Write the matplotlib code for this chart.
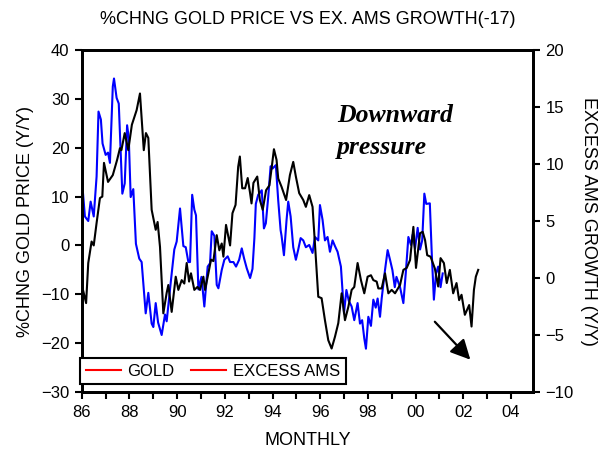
import numpy as np
from matplotlib import pyplot as plt
from matplotlib import rcParams
from matplotlib.ticker import MultipleLocator, FuncFormatter
rcParams['font.family'] = 'sans-serif'
rcParams['font.sans-serif'] = ['Liberation Sans', 'DejaVu Sans']
rcParams['font.size'] = 12

# gold: % change y/y (left axis)
gold_t = [1986.00, 1986.06, 1986.18, 1986.27, 1986.41, 1986.50, 1986.62, 1986.76, 1986.86, 1986.93,
          1987.10, 1987.30, 1987.48, 1987.60, 1987.66, 1987.80, 1987.95, 1988.10, 1988.30, 1988.44,
          1988.60, 1988.69, 1988.79, 1988.93, 1989.10, 1989.18, 1989.28, 1989.42, 1989.56, 1989.63,
          1989.77, 1989.94, 1990.05, 1990.19, 1990.30, 1990.40, 1990.50, 1990.58, 1990.72, 1990.85,
          1990.96, 1991.10, 1991.17, 1991.31, 1991.42, 1991.52, 1991.66, 1991.77, 1991.87, 1991.94,
          1992.05, 1992.22, 1992.32, 1992.45, 1992.56, 1992.63, 1992.73, 1992.85, 1992.96, 1993.06,
          1993.12, 1993.20, 1993.36, 1993.47, 1993.59, 1993.73, 1993.87, 1993.97, 1994.06, 1994.17,
          1994.24, 1994.38, 1994.57, 1994.73, 1994.87, 1994.98, 1995.12, 1995.29, 1995.40, 1995.54,
          1995.68, 1995.78, 1995.92, 1996.06, 1996.20, 1996.34, 1996.48, 1996.62, 1996.76, 1996.90,
          1997.04, 1997.18, 1997.32, 1997.43, 1997.57, 1997.71, 1997.85, 1997.99, 1998.13, 1998.23,
          1998.37, 1998.44, 1998.58, 1998.72, 1998.86, 1999.00, 1999.14, 1999.35, 1999.49, 1999.63,
          1999.77, 1999.91, 2000.02, 2000.19, 2000.30, 2000.40, 2000.49, 2000.63, 2000.81, 2000.95,
          2001.05, 2001.19, 2001.31, 2001.44, 2001.58, 2001.72, 2001.83, 2001.93, 2002.07, 2002.25,
          2002.35, 2002.45, 2002.53, 2002.63]
gold = [-8.5, -9.3, -11.8, -3.6, 0.8, 0.0, 4.6, 9.7, 10.0, 16.9,
        13.0, 14.4, 17.5, 19.9, 19.5, 23.0, 19.5, 24.7, 27.7, 31.1,
        19.5, 23.0, 22.0, 7.3, 3.2, 4.8, -0.3, -13.9, -9.7, -8.1,
        -13.6, -6.4, -9.1, -7.1, -7.8, -3.6, -7.4, -5.7, -9.1, -8.5,
        -9.1, -6.4, -9.1, -5.7, -2.9, -3.2, 2.1, -1.0, 0.4, -2.3,
        4.2, 0.0, 6.6, 8.3, 16.1, 18.2, 11.7, 11.7, 13.8, 10.7,
        8.6, 12.8, 14.1, 9.3, 7.3, 11.3, 12.3, 16.1, 19.7, 17.5,
        13.7, 12.0, 9.3, 14.4, 17.1, 14.1, 10.7, 9.3, 7.9, 10.3,
        7.9, 0.4, -10.5, -10.8, -15.3, -19.4, -21.1, -18.7, -15.9, -9.8,
        -15.3, -12.6, -9.1, -8.5, -3.6, -7.1, -9.8, -6.4, -6.1, -7.1,
        -7.4, -8.8, -8.8, -5.7, -9.8, -9.1, -9.8, -8.1, -5.0, -4.6,
        -3.0, 3.8, -4.6, 2.5, 2.8, 1.1, -2.0, -2.3, -4.7, -8.4,
        -2.6, -3.6, -7.7, -5.0, -9.8, -7.7, -11.2, -10.1, -14.2, -12.2,
        -16.6, -9.1, -6.4, -5.0]

# excess AMS growth y/y, lagged 17 months (right axis)
ams_t = [1986.00, 1986.13, 1986.27, 1986.37, 1986.50, 1986.62, 1986.70, 1986.80, 1986.87, 1987.00,
         1987.10, 1987.18, 1987.30, 1987.35, 1987.46, 1987.55, 1987.70, 1987.80, 1987.90, 1987.97,
         1988.05, 1988.16, 1988.27, 1988.41, 1988.51, 1988.68, 1988.79, 1988.93, 1989.00, 1989.10,
         1989.20, 1989.35, 1989.49, 1989.56, 1989.74, 1989.88, 1989.98, 1990.12, 1990.26, 1990.36,
         1990.47, 1990.54, 1990.63, 1990.72, 1990.79, 1990.89, 1991.02, 1991.14, 1991.28, 1991.38,
         1991.45, 1991.56, 1991.66, 1991.73, 1991.87, 1991.98, 1992.12, 1992.22, 1992.36, 1992.47,
         1992.60, 1992.71, 1992.81, 1992.92, 1993.06, 1993.16, 1993.24, 1993.30, 1993.40, 1993.55,
         1993.64, 1993.72, 1993.82, 1993.92, 1994.00, 1994.14, 1994.24, 1994.34, 1994.38, 1994.48,
         1994.59, 1994.66, 1994.76, 1994.87, 1994.98, 1995.08, 1995.18, 1995.29, 1995.40, 1995.54,
         1995.68, 1995.78, 1995.92, 1995.99, 1996.10, 1996.20, 1996.31, 1996.41, 1996.52, 1996.62,
         1996.73, 1996.87, 1997.00, 1997.10, 1997.20, 1997.32, 1997.43, 1997.57, 1997.67, 1997.76,
         1997.85, 1997.92, 1998.02, 1998.13, 1998.23, 1998.33, 1998.41, 1998.51, 1998.58, 1998.72,
         1998.83, 1998.93, 1999.03, 1999.13, 1999.20, 1999.35, 1999.49, 1999.59, 1999.70, 1999.81,
         1999.88, 1999.98, 2000.09, 2000.19, 2000.28, 2000.37, 2000.45, 2000.60, 2000.68, 2000.77,
         2000.86, 2000.95, 2001.05, 2001.14]
ams = [8.7, 5.4, 5.0, 6.7, 5.4, 8.9, 14.6, 13.9, 11.8, 10.8,
       11.0, 10.1, 16.8, 17.5, 15.8, 15.3, 7.4, 8.3, 13.4, 12.3,
       7.1, 7.8, 3.0, 1.7, 1.4, -3.1, -1.3, -4.0, -4.3, -2.2,
       -3.9, -5.0, -3.2, -3.8, -0.2, 2.5, 3.2, 6.1, 2.8, 2.7,
       1.4, 1.4, 7.3, 6.0, 5.5, -1.0, 0.1, -2.5, 1.0, 1.3,
       4.1, 3.7, -0.6, -0.9, 0.7, 1.6, 1.9, 1.4, 1.4, 1.0,
       1.6, 2.6, 1.7, 0.85, 0.0, 0.8, 3.5, 6.5, 7.3, 7.7,
       4.35, 4.8, 7.1, 9.8, 9.6, 9.9, 6.8, 4.2, 3.7, 2.0,
       5.1, 6.7, 5.4, 2.7, 1.6, 2.5, 3.5, 3.3, 2.7, 2.9,
       2.2, 3.6, 3.3, 6.4, 5.1, 3.3, 3.6, 2.3, 3.3, 2.8,
       2.3, 1.0, -3.1, -1.05, -2.0, -2.5, -3.7, -2.2, -4.0, -3.7,
       -5.3, -6.2, -3.4, -4.2, -1.9, -2.6, -1.8, -3.4, -1.8, 0.7,
       2.45, 1.6, 0.7, -0.8, 0.1, -0.8, -2.2, 0.4, 3.6, 2.9,
       3.8, 2.6, 4.4, 2.5, 3.3, 7.4, 6.5, 6.55, 2.2, -1.9,
       0.4, 1.0, -0.8, 0.4]

fig = plt.figure(figsize=(6.11, 4.51), dpi=100)
ax = fig.add_axes([0.1339, 0.1308, 0.7385, 0.7583])
ax2 = ax.twinx()

ax.plot(gold_t, gold, color='black', lw=1.5, zorder=3)
ax2.plot(ams_t, ams, color='#0000ff', lw=1.5)
ax.set_zorder(ax2.get_zorder() + 1)
ax.patch.set_visible(False)

ax.set_xlim(1986, 2004.93)
ax.set_ylim(-30, 40)
ax2.set_ylim(-10, 20)
ax.yaxis.set_major_locator(MultipleLocator(10))
ax2.yaxis.set_major_locator(MultipleLocator(5))
ax.xaxis.set_major_locator(MultipleLocator(2))
ax.xaxis.set_minor_locator(MultipleLocator(1))
ax.xaxis.set_major_formatter(FuncFormatter(lambda v, p: '%02d' % (int(round(v)) % 100)))

for a in (ax, ax2):
    for s in a.spines.values():
        s.set_linewidth(2)
    a.tick_params(which='both', direction='out', length=5, width=1.5, pad=4, labelsize=12)

ax.set_title('%CHNG GOLD PRICE VS EX. AMS GROWTH(-17)', fontsize=13, pad=19)
ax.set_xlabel('MONTHLY', fontsize=13, labelpad=9)
ax.set_ylabel('%CHNG GOLD PRICE (Y/Y)', fontsize=13, labelpad=5)
ax2.set_ylabel('EXCESS AMS GROWTH (Y/Y)', fontsize=13, rotation=270, labelpad=17)

ax.text(1996.7, 29.0, 'Downward\npressure', fontsize=18.5, fontweight='bold', fontstyle='italic',
        family='Liberation Serif', ha='left', va='top', linespacing=1.5)
ax.annotate('', xy=(2002.38, -23.8), xytext=(2000.73, -15.2),
            arrowprops=dict(arrowstyle='-|>', mutation_scale=30, lw=1.6, color='black'))

h1, = ax.plot([], [], color='red', lw=1.5)
h2, = ax.plot([], [], color='red', lw=1.5)
leg = ax.legend([h1, h2], ['GOLD', 'EXCESS AMS'], loc='lower left', bbox_to_anchor=(-0.004, 0.022),
                borderaxespad=0, ncol=2, fancybox=False, framealpha=1, edgecolor='black',
                fontsize=12, handlelength=2.1, handletextpad=0.4, columnspacing=1.0, borderpad=0.35)
leg.get_frame().set_linewidth(1.5)

plt.savefig('out.png', dpi=100)
